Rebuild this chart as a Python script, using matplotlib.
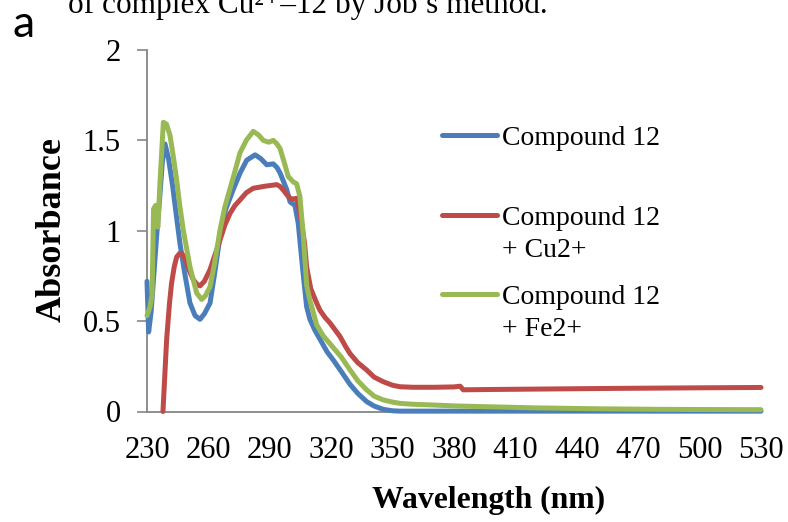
import matplotlib
matplotlib.use("Agg")
import matplotlib.pyplot as plt

# ---------------- data ----------------
wl_c12 = [230, 230.8, 232, 233.5, 234.7, 236, 237.5, 238.8, 240.5, 242.5, 244.5, 246.1,
          248.5, 251, 253.5, 255.9, 258, 260.8, 263, 265.7, 268.5, 272.2, 275.5, 278.7,
          282.8, 285.5, 288.5, 291.7, 293.5, 295, 298.2, 299.9, 302.3, 303.9, 306.4, 308,
          309.6, 312, 314.5, 318, 321, 325, 329.2, 333, 337.3, 341, 345.4, 350, 353.6,
          360, 380, 400, 450, 500, 530]
abs_c12 = [0.72, 0.44, 0.55, 0.78, 0.97, 1.15, 1.38, 1.48, 1.40, 1.25, 1.07, 0.93,
           0.76, 0.60, 0.53, 0.51, 0.54, 0.60, 0.76, 0.97, 1.12, 1.23, 1.32, 1.39,
           1.42, 1.40, 1.365, 1.37, 1.35, 1.32, 1.23, 1.16, 1.14, 1.04, 0.75, 0.58,
           0.51, 0.45, 0.40, 0.33, 0.285, 0.22, 0.15, 0.10, 0.055, 0.03, 0.012, 0.004, 0.002,
           0.002, 0.002, 0.002, 0.002, 0.002, 0.002]

wl_cu = [237.8, 239.6, 241, 242, 243.3, 244.5, 246, 247, 248.3, 249.4, 251, 252.6, 254.3,
         255.9, 258, 260.8, 263, 265.7, 268, 270.5, 273, 275.4, 278.5, 281.9, 284.5, 286.8,
         290, 293.4, 295, 296.6, 298.3, 299.9, 301.5, 303.1, 304.3, 305.6, 307, 308, 310,
         312.9, 314.5, 317, 319.4, 322, 324.3, 327, 329.2, 333, 337.3, 341, 345.4, 350,
         353.6, 360, 370, 380, 383, 384.5, 400, 430, 460, 500, 530]
abs_cu = [0.0, 0.40, 0.60, 0.71, 0.80, 0.855, 0.875, 0.875, 0.85, 0.82, 0.77, 0.73, 0.705,
          0.695, 0.72, 0.785, 0.86, 0.95, 1.03, 1.095, 1.14, 1.17, 1.21, 1.235, 1.24, 1.245,
          1.25, 1.255, 1.245, 1.225, 1.20, 1.18, 1.175, 1.18, 1.12, 1.04, 0.93, 0.80, 0.68,
          0.60, 0.56, 0.52, 0.49, 0.45, 0.415, 0.36, 0.32, 0.27, 0.23, 0.19, 0.165, 0.145,
          0.137, 0.134, 0.134, 0.136, 0.14, 0.12, 0.122, 0.125, 0.128, 0.131, 0.133]

wl_fe = [230, 231.5, 232.5, 233.2, 234.2, 235.3, 236.5, 238, 239.5, 241.2, 243, 244.5, 246,
         247.7, 251, 254.3, 256.7, 258.5, 260.8, 263, 265.7, 268, 270.5, 273, 275.4, 278.5,
         281.9, 284.5, 286.8, 289.5, 291.7, 293.5, 295, 297, 299, 301.5, 303.1, 304.7, 306.4,
         308, 309.5, 312.9, 316, 319.4, 322, 325, 329.2, 333, 337.3, 341, 345.4, 350, 353.6,
         360, 369.7, 380, 394, 420, 450, 480, 500, 530]
abs_fe = [0.53, 0.58, 0.65, 1.12, 1.14, 1.02, 1.30, 1.60, 1.59, 1.53, 1.40, 1.28, 1.14,
          1.005, 0.80, 0.655, 0.62, 0.64, 0.69, 0.82, 1.005, 1.13, 1.23, 1.33, 1.43, 1.50,
          1.55, 1.53, 1.50, 1.49, 1.50, 1.48, 1.455, 1.38, 1.30, 1.27, 1.26, 1.19, 0.97,
          0.70, 0.62, 0.48, 0.42, 0.375, 0.34, 0.30, 0.23, 0.17, 0.12, 0.085, 0.064, 0.052,
          0.045, 0.04, 0.036, 0.031, 0.027, 0.02, 0.015, 0.012, 0.011, 0.01]

series_labels = [["Compound 12"], ["Compound 12", "+ Cu2+"], ["Compound 12", "+ Fe2+"]]
colors = ["#4A7EBB", "#BE4B48", "#98B954"]
x_ticks = [230, 260, 290, 320, 350, 380, 410, 440, 470, 500, 530]
y_ticks = [0, 0.5, 1, 1.5, 2]
y_tick_labels = ["0", "0.5", "1", "1.5", "2"]

# ---------------- figure ----------------
W, H = 788, 522
fig = plt.figure(figsize=(W / 100, H / 100), dpi=100)
serif = ["Liberation Serif", "DejaVu Serif"]

ax = fig.add_axes([147 / W, 1 - 411.5 / H, 614 / W, 361.5 / H])
lw = 3.6
for wl, ab, c in zip([wl_c12, wl_cu, wl_fe], [abs_c12, abs_cu, abs_fe], colors):
    ax.plot(wl, ab, color=c, lw=lw, solid_capstyle="round", solid_joinstyle="round",
            clip_on=False, zorder=3)

ax.set_xlim(230, 530)
ax.set_ylim(0, 2)
ax.set_xticks(x_ticks)
ax.set_xticklabels([str(v) for v in x_ticks], fontfamily=serif, fontsize=22)
ax.set_yticks(y_ticks)
ax.set_yticklabels(y_tick_labels, fontfamily=serif, fontsize=22)
ax.tick_params(axis="x", length=0, pad=17.5)
ax.tick_params(axis="y", length=7, width=1.2, color="#868686", pad=12, direction="out")
for s in ["top", "right"]:
    ax.spines[s].set_visible(False)
for s in ["left", "bottom"]:
    ax.spines[s].set_color("#868686")
    ax.spines[s].set_linewidth(1.3)

# legend (manual, to match the spacing)
leg_y = [0.765, 0.5436, 0.324]
base_first = [0.737, 0.516, 0.297]
line_step = 32 / 361.5
for c, ly, by, labs in zip(colors, leg_y, base_first, series_labels):
    ax.plot([0.480, 0.5695], [ly, ly], transform=ax.transAxes, color=c, lw=lw,
            solid_capstyle="round", clip_on=False)
    for i, t in enumerate(labs):
        ax.text(0.578, by - i * line_step, t, transform=ax.transAxes, va="baseline",
                ha="left", fontfamily=serif, fontsize=20)

# axis labels
fig.text(52 / W, 1 - 230 / H, "Absorbance", rotation=90, ha="center", va="center",
         fontfamily=serif, fontweight="bold", fontsize=26)
fig.text(488.5 / W, 1 - 500 / H, "Wavelength (nm)", ha="center", va="center",
         fontfamily=serif, fontweight="bold", fontsize=22.8)

# cut-off caption and panel letter
fig.text(68 / W, 1 - 13 / H, "of complex Cu\u00b2\u207a\u201312 by Job\u2019s method.",
         ha="left", va="baseline", fontfamily=serif, fontsize=22.5)
fig.text(13 / W, 1 - 37 / H, "a", ha="left", va="baseline",
         fontfamily=["Lato", "DejaVu Sans"], fontsize=32)

fig.savefig("out.png", dpi=100)
